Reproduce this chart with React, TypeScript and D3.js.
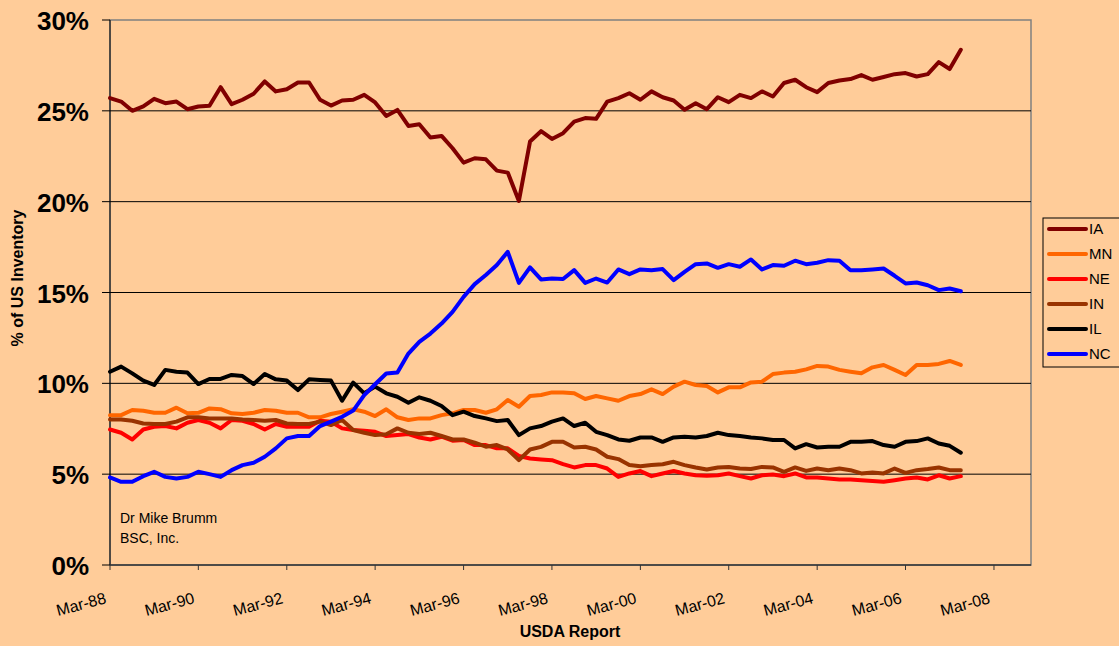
import React from "react";
import * as d3 from "d3";

const W = 1119;
const H = 646;

const seriesNames = ["IA", "MN", "NE", "IN", "IL", "NC"];
const seriesColors = ["#800000", "#FF6600", "#FF0000", "#993300", "#000000", "#0000FF"];

// quarterly USDA reports, Mar-88 .. Jun-07 (78 reports)
const firstReport = new Date(1988, 2, 1);
const reportCount = 78;

const IA = [
  25.70, 25.51, 25.00, 25.24, 25.66, 25.42, 25.51, 25.09, 25.24, 25.28,
  26.30, 25.37, 25.61, 25.94, 26.62, 26.07, 26.19, 26.56, 26.56, 25.61,
  25.29, 25.57, 25.61, 25.88, 25.46, 24.72, 25.05, 24.17, 24.26, 23.53,
  23.62, 22.94, 22.15, 22.39, 22.33, 21.71, 21.60, 20.04, 23.31, 23.88,
  23.45, 23.77, 24.41, 24.60, 24.56, 25.51, 25.70, 25.97, 25.61, 26.07,
  25.75, 25.57, 25.06, 25.42, 25.09, 25.75, 25.48, 25.88, 25.70, 26.07,
  25.79, 26.53, 26.71, 26.30, 26.03, 26.53, 26.67, 26.75, 26.97, 26.71,
  26.86, 27.02, 27.08, 26.89, 27.02, 27.68, 27.30, 28.36,
];

const MN = [
  8.25, 8.25, 8.53, 8.49, 8.38, 8.38, 8.66, 8.35, 8.38, 8.62,
  8.58, 8.35, 8.31, 8.38, 8.53, 8.49, 8.38, 8.38, 8.13, 8.13,
  8.31, 8.44, 8.57, 8.44, 8.20, 8.57, 8.13, 7.98, 8.07, 8.07,
  8.25, 8.35, 8.53, 8.53, 8.38, 8.57, 9.08, 8.71, 9.30, 9.36,
  9.50, 9.50, 9.45, 9.14, 9.30, 9.17, 9.04, 9.30, 9.41, 9.67,
  9.41, 9.82, 10.09, 9.91, 9.85, 9.50, 9.78, 9.78, 10.05, 10.09,
  10.51, 10.59, 10.64, 10.77, 10.96, 10.92, 10.74, 10.64, 10.55, 10.88,
  11.01, 10.74, 10.46, 11.01, 11.01, 11.07, 11.23, 11.01,
];

const NE = [
  7.46, 7.28, 6.91, 7.46, 7.61, 7.65, 7.52, 7.83, 7.98, 7.83,
  7.52, 7.98, 7.94, 7.76, 7.46, 7.76, 7.61, 7.61, 7.61, 7.94,
  7.89, 7.52, 7.43, 7.39, 7.33, 7.10, 7.15, 7.21, 7.02, 6.91,
  7.06, 6.84, 6.88, 6.60, 6.60, 6.42, 6.42, 6.00, 5.86, 5.81,
  5.77, 5.55, 5.37, 5.50, 5.50, 5.31, 4.85, 5.04, 5.17, 4.89,
  5.04, 5.17, 5.04, 4.94, 4.91, 4.94, 5.04, 4.89, 4.76, 4.94,
  4.98, 4.89, 5.04, 4.82, 4.82, 4.76, 4.71, 4.71, 4.67, 4.63,
  4.58, 4.67, 4.76, 4.82, 4.71, 4.94, 4.76, 4.89,
];

const IN = [
  8.01, 8.01, 7.94, 7.79, 7.76, 7.76, 7.89, 8.13, 8.13, 8.07,
  8.07, 8.07, 8.01, 7.98, 7.94, 7.98, 7.79, 7.76, 7.76, 7.89,
  7.70, 7.98, 7.43, 7.28, 7.15, 7.20, 7.52, 7.28, 7.21, 7.28,
  7.10, 6.91, 6.91, 6.73, 6.51, 6.60, 6.36, 5.77, 6.36, 6.50,
  6.78, 6.78, 6.47, 6.51, 6.36, 5.96, 5.83, 5.50, 5.44, 5.50,
  5.55, 5.68, 5.50, 5.37, 5.26, 5.37, 5.40, 5.31, 5.28, 5.40,
  5.37, 5.13, 5.37, 5.18, 5.31, 5.22, 5.31, 5.22, 5.04, 5.09,
  5.04, 5.31, 5.07, 5.22, 5.28, 5.37, 5.22, 5.22,
];

const IL = [
  10.64, 10.92, 10.55, 10.15, 9.91, 10.74, 10.64, 10.59, 9.96, 10.24,
  10.24, 10.46, 10.40, 9.96, 10.51, 10.22, 10.15, 9.63, 10.22, 10.18,
  10.15, 9.04, 10.04, 9.45, 9.82, 9.45, 9.26, 8.93, 9.23, 9.04,
  8.75, 8.25, 8.44, 8.20, 8.07, 7.92, 7.98, 7.15, 7.52, 7.65,
  7.89, 8.07, 7.65, 7.83, 7.33, 7.15, 6.91, 6.84, 7.02, 7.02,
  6.78, 7.02, 7.06, 7.02, 7.10, 7.28, 7.15, 7.10, 7.02, 6.97,
  6.88, 6.88, 6.42, 6.65, 6.47, 6.51, 6.51, 6.78, 6.78, 6.82,
  6.60, 6.51, 6.78, 6.82, 6.97, 6.69, 6.56, 6.18,
];

const NC = [
  4.82, 4.58, 4.58, 4.89, 5.13, 4.85, 4.76, 4.85, 5.13, 5.00,
  4.85, 5.22, 5.50, 5.63, 5.96, 6.42, 6.97, 7.10, 7.10, 7.65,
  7.89, 8.16, 8.50, 9.35, 9.95, 10.54, 10.60, 11.64, 12.28, 12.74,
  13.29, 13.93, 14.76, 15.46, 15.96, 16.51, 17.24, 15.53, 16.38, 15.72,
  15.77, 15.74, 16.23, 15.53, 15.77, 15.55, 16.27, 16.01, 16.27, 16.23,
  16.29, 15.68, 16.14, 16.56, 16.60, 16.36, 16.56, 16.42, 16.82, 16.27,
  16.51, 16.47, 16.75, 16.56, 16.64, 16.78, 16.75, 16.23, 16.23, 16.27,
  16.32, 15.92, 15.50, 15.55, 15.40, 15.13, 15.22, 15.07,
];

const seriesValues = [IA, MN, NE, IN, IL, NC];

const yTicks = [0, 5, 10, 15, 20, 25, 30];
const xTickLabels = ["Mar-88", "Mar-90", "Mar-92", "Mar-94", "Mar-96", "Mar-98", "Mar-00", "Mar-02", "Mar-04", "Mar-06", "Mar-08"];

const FONT = "'Liberation Sans', Arial, Helvetica, sans-serif";

export default function App() {
  const left = 110, right = 1031, top = 20, bottom = 565;
  const parse = d3.timeParse("%b-%y");
  const x = d3.scaleTime().domain([new Date(1988, 2, 1), new Date(2009, 0, 1)]).range([left, right]);
  const y = d3.scaleLinear().domain([0, 30]).range([bottom, top]);
  const dates = d3.range(reportCount).map((i) => d3.timeMonth.offset(firstReport, 3 * i));
  const line = d3
    .line<number>()
    .x((_, i) => x(dates[i]))
    .y((d) => y(d));

  const legendX = 1043, legendY = 218;

  return (
    <svg
      width={W}
      height={H}
      style={{ position: "absolute", left: 0, top: 0, background: "#FFCC99" }}
      fontFamily={FONT}
    >
      <rect x={0} y={0} width={W} height={H} fill="#FFCC99" />
      {/* plot border */}
      <rect x={left} y={top} width={right - left} height={bottom - top} fill="#FFCC99" stroke="#808080" strokeWidth={1.5} />
      {/* gridlines */}
      {yTicks.filter((t) => t > 0 && t < 30).map((t) => (
        <line key={"g" + t} x1={left} x2={right} y1={y(t)} y2={y(t)} stroke="#000" strokeWidth={1} />
      ))}
      {/* axes */}
      <line x1={left} x2={left} y1={top} y2={bottom} stroke="#000" strokeWidth={1} />
      <line x1={left} x2={right} y1={bottom} y2={bottom} stroke="#333" strokeWidth={1.5} />
      {yTicks.map((t) => (
        <g key={"y" + t}>
          <line x1={left - 8} x2={left} y1={y(t)} y2={y(t)} stroke="#000" strokeWidth={1} />
          <text x={89} y={y(t) + 10} textAnchor="end" fontSize={26} fontWeight="bold" fill="#000">
            {t + "%"}
          </text>
        </g>
      ))}
      {xTickLabels.map((lab) => {
        const xx = x(parse(lab) as Date);
        return (
          <g key={lab}>
            <line x1={xx} x2={xx} y1={bottom} y2={bottom + 5} stroke="#333" strokeWidth={1} />
            <text
              transform={`translate(${xx - 3},${603}) rotate(-15)`}
              textAnchor="end"
              fontSize={16}
              fill="#000"
            >
              {lab}
            </text>
          </g>
        );
      })}
      {/* series */}
      {seriesValues.map((vals, k) => (
        <path
          key={seriesNames[k]}
          d={line(vals) || ""}
          fill="none"
          stroke={seriesColors[k]}
          strokeWidth={4}
          strokeLinejoin="round"
          strokeLinecap="round"
        />
      ))}
      {/* credit */}
      <text x={120} y={523} fontSize={14} fill="#000">Dr Mike Brumm</text>
      <text x={120} y={543} fontSize={14} fill="#000">BSC, Inc.</text>
      {/* axis titles */}
      <text x={570} y={637} textAnchor="middle" fontSize={16} fontWeight="bold" fill="#000">USDA Report</text>
      <text transform={`translate(23,278) rotate(-90)`} textAnchor="middle" fontSize={16} fontWeight="bold" fill="#000">
        % of US Inventory
      </text>
      {/* legend */}
      <rect x={legendX} y={legendY} width={90} height={149} fill="#FFCC99" stroke="#000" strokeWidth={1} />
      {seriesNames.map((name, k) => {
        const ly = 229 + k * 25;
        return (
          <g key={"lg" + name}>
            <line x1={1049} x2={1086} y1={ly} y2={ly} stroke={seriesColors[k]} strokeWidth={4} strokeLinecap="round" />
            <text x={1089} y={ly + 5} fontSize={15} fill="#000">{name}</text>
          </g>
        );
      })}
    </svg>
  );
}
